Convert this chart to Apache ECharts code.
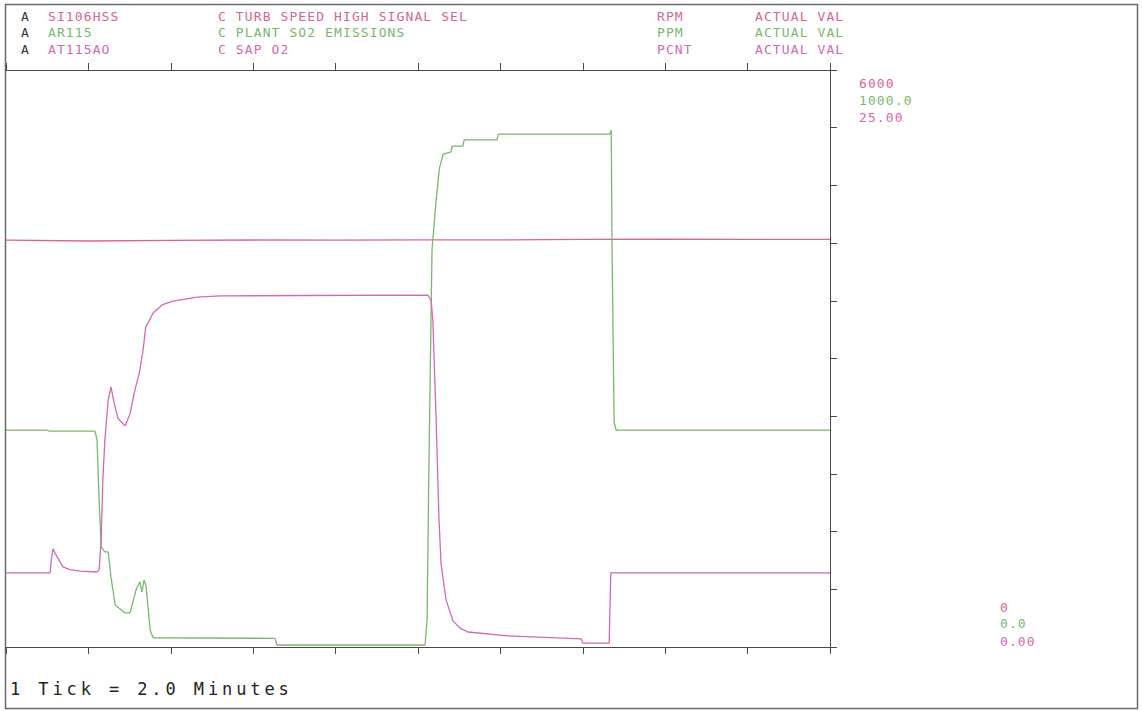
<!DOCTYPE html>
<html>
<head>
<meta charset="utf-8">
<script src="https://cdn.jsdelivr.net/npm/echarts@6/dist/echarts.min.js"></script>
<style>
  html, body { margin: 0; padding: 0; background: #fff; }
  #c { width: 1142px; height: 711px; }
</style>
</head>
<body>
<div id="c"></div>
<script>
// ---- data (time in minutes, 1 tick = 2.0 minutes) ----
const xTicks = [0, 2, 4, 6, 8, 10, 12, 14, 16, 18, 20];

const tagNames = ['SI106HSS', 'AR115', 'AT115AO'];
const tagDescs = ['C TURB SPEED HIGH SIGNAL SEL', 'C PLANT SO2 EMISSIONS', 'C SAP O2'];
const tagUnits = ['RPM', 'PPM', 'PCNT'];
const tagTypes = ['ACTUAL VAL', 'ACTUAL VAL', 'ACTUAL VAL'];
const scaleMax = ['6000', '1000.0', '25.00'];
const scaleMin = ['0', '0.0', '0.00'];
const footer = '1 Tick = 2.0 Minutes';

// SI106HSS turbine speed, RPM
const speedRpm = [
  [0, 4230], [2, 4222], [4, 4228], [6, 4232], [8, 4230], [10, 4234],
  [12, 4234], [14, 4238], [16, 4240], [18, 4238], [20, 4238]
];

// AR115 plant SO2 emissions, PPM
const so2Ppm = [
  [0, 376], [1.0, 376], [1.05, 374], [2.16, 374], [2.21, 359], [2.26, 255], [2.31, 173],
  [2.40, 165], [2.48, 165], [2.55, 120], [2.65, 73], [2.89, 59], [3.01, 59],
  [3.16, 100], [3.25, 113], [3.30, 95], [3.35, 116], [3.40, 105], [3.50, 29],
  [3.57, 16], [6.53, 15], [6.58, 3.5], [10.17, 3.5], [10.22, 47], [10.27, 341],
  [10.34, 688], [10.44, 775], [10.52, 830], [10.61, 854], [10.80, 858], [10.83, 868],
  [11.09, 868], [11.12, 879], [11.92, 879], [11.95, 889], [14.66, 889], [14.69, 896],
  [14.71, 690], [14.76, 390], [14.81, 376], [20, 376]
];

// AT115AO SAP O2, PCNT
const o2Pcnt = [
  [0, 3.21], [1.07, 3.21], [1.10, 3.8], [1.14, 4.25], [1.21, 4.0], [1.38, 3.47],
  [1.55, 3.35], [1.80, 3.29], [2.21, 3.25], [2.26, 3.34], [2.31, 4.64], [2.35, 7.24],
  [2.40, 8.97], [2.48, 10.70], [2.55, 11.27], [2.62, 10.6], [2.72, 9.9], [2.89, 9.58],
  [3.01, 10.1], [3.13, 11.14], [3.24, 11.9], [3.33, 12.9], [3.39, 13.86], [3.45, 14.04],
  [3.57, 14.47], [3.79, 14.82], [4.05, 14.99], [4.64, 15.16], [5.19, 15.21], [7.14, 15.23],
  [10.24, 15.25], [10.32, 15.0], [10.36, 14.17], [10.44, 9.84], [10.51, 5.50], [10.56, 3.60],
  [10.68, 2.04], [10.85, 1.13], [11.02, 0.82], [11.21, 0.65], [12.18, 0.48], [13.96, 0.35],
  [14.00, 0.17], [14.64, 0.17], [14.68, 3.21], [20, 3.21]
];

// ---- styling ----
const colors = ['#d9658f', '#79b86c', '#d468b4'];
const axisColor = '#4a4a4a';
const mono = '"DejaVu Sans Mono", monospace';

const chart = echarts.init(document.getElementById('c'), null, { renderer: 'svg' });

const graphics = [
  { type: 'rect', shape: { x: 5.5, y: 4.5, width: 1132, height: 704 },
    style: { fill: 'none', stroke: '#6a6a6a', lineWidth: 1.5 }, silent: true }
];
const rowY = [16, 32, 49];
for (let i = 0; i < 3; i++) {
  const y = rowY[i];
  const f = '13px ' + mono;
  graphics.push({ type: 'text', x: 21, y: y, style: { text: 'A', fill: '#333', font: f, textVerticalAlign: 'middle' } });
  graphics.push({ type: 'text', x: 48, y: y, style: { text: tagNames[i], fill: colors[i], font: f, textVerticalAlign: 'middle' } });
  graphics.push({ type: 'text', x: 218, y: y, style: { text: tagDescs[i], fill: colors[i], font: f, textVerticalAlign: 'middle' } });
  graphics.push({ type: 'text', x: 657, y: y, style: { text: tagUnits[i], fill: colors[i], font: f, textVerticalAlign: 'middle' } });
  graphics.push({ type: 'text', x: 755, y: y, style: { text: tagTypes[i], fill: colors[i], font: f, textVerticalAlign: 'middle' } });
}
const maxY = [83, 100, 117];
const minY = [607, 623, 641];
for (let i = 0; i < 3; i++) {
  graphics.push({ type: 'text', x: 859, y: maxY[i], style: { text: scaleMax[i], fill: colors[i], font: '13px ' + mono, textVerticalAlign: 'middle' } });
  graphics.push({ type: 'text', x: 1000, y: minY[i], style: { text: scaleMin[i], fill: colors[i], font: '13px ' + mono, textVerticalAlign: 'middle' } });
}
graphics.push({ type: 'text', x: 10, y: 689, style: { text: footer, fill: '#222', font: '17px ' + mono, textVerticalAlign: 'middle' } });

const xAxisBase = {
  type: 'value', min: 0, max: 20, interval: 2,
  axisLine: { show: true, onZero: false, lineStyle: { color: axisColor, width: 1 } },
  axisTick: { show: true, inside: false, length: 7, lineStyle: { color: axisColor } },
  axisLabel: { show: false },
  splitLine: { show: false }
};

chart.setOption({
  animation: false,
  backgroundColor: '#fff',
  grid: { left: 6, top: 70, width: 824, height: 577, containLabel: false },
  xAxis: [
    Object.assign({}, xAxisBase, { position: 'bottom' }),
    Object.assign({}, xAxisBase, { position: 'top' })
  ],
  yAxis: [
    { type: 'value', min: 0, max: 6000, interval: 600, position: 'right',
      axisLine: { show: true, onZero: false, lineStyle: { color: axisColor, width: 1 } },
      axisTick: { show: true, inside: false, length: 7, lineStyle: { color: axisColor } },
      axisLabel: { show: false }, splitLine: { show: false } },
    { type: 'value', min: 0, max: 1000, position: 'left', show: false, splitLine: { show: false } },
    { type: 'value', min: 0, max: 25, position: 'left', show: false, splitLine: { show: false } }
  ],
  series: [
    { name: tagNames[0], type: 'line', xAxisIndex: 0, yAxisIndex: 0, data: speedRpm,
      showSymbol: false, lineStyle: { color: colors[0], width: 1.3 } },
    { name: tagNames[1], type: 'line', xAxisIndex: 0, yAxisIndex: 1, data: so2Ppm,
      showSymbol: false, lineStyle: { color: colors[1], width: 1.3 } },
    { name: tagNames[2], type: 'line', xAxisIndex: 0, yAxisIndex: 2, data: o2Pcnt,
      showSymbol: false, lineStyle: { color: colors[2], width: 1.3 } }
  ],
  graphic: graphics
});

// plotter-style wide lettering
setTimeout(function () {
  document.querySelectorAll('#c text').forEach(function (t) {
    const txt = t.textContent || '';
    if (txt.indexOf('Minutes') >= 0) t.style.letterSpacing = '3.9px';
    else t.style.letterSpacing = '1.1px';
  });
}, 0);
</script>
</body>
</html>
